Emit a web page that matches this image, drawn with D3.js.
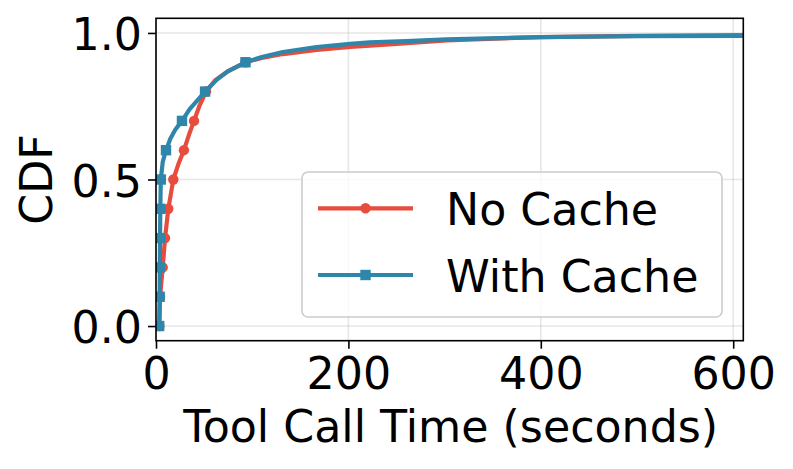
<!DOCTYPE html>
<html>
<head>
<meta charset="utf-8">
<script src="https://cdn.jsdelivr.net/npm/d3@7"></script>
<style>
  html, body { margin: 0; padding: 0; background: #fff; }
  svg { display: block; font-family: "DejaVu Sans", sans-serif; }
</style>
</head>
<body>
<svg id="chart" width="793" height="469"></svg>
<script>
// ---- data ----
const seriesNames = ["No Cache", "With Cache"];
const seriesColors = ["#E74C3C", "#2E86AB"];
const cdfLevels = [0, 0.1, 0.2, 0.3, 0.4, 0.5, 0.6, 0.7, 0.8, 0.9];
// x (seconds) at each CDF level (marker points)
const noCacheQuantiles   = [3.5, 4.2, 7, 9.4, 12.8, 18, 29, 39.5, 52, 93];
const withCacheQuantiles = [3.3, 3.8, 4, 4.2, 4.5, 5, 10.4, 27, 51, 93];
// extra curve points (between markers and the tail)
const noCacheExtraX = [23, 34, 45, 62, 75, 110, 132, 167, 202, 250, 302, 400, 500, 610];
const noCacheExtraY = [0.55, 0.65, 0.75, 0.84, 0.87, 0.915, 0.928, 0.942, 0.952, 0.963, 0.975, 0.986, 0.990, 0.993];
const withCacheExtraX = [7, 15, 20, 35, 43, 63, 75, 110, 132, 167, 202, 222, 260, 302, 400, 500, 610];
const withCacheExtraY = [0.56, 0.64, 0.67, 0.74, 0.77, 0.84, 0.87, 0.918, 0.935, 0.952, 0.963, 0.968, 0.972, 0.978, 0.986, 0.989, 0.990];
const xTicks = [0, 200, 400, 600];
const yTicks = [0, 0.5, 1.0];
const xLabel = "Tool Call Time (seconds)";
const yLabel = "CDF";

// ---- build series ----
function buildSeries(q, ex, ey) {
  const pts = q.map((x, i) => ({ x, y: cdfLevels[i], m: true }))
    .concat(ex.map((x, i) => ({ x, y: ey[i], m: false })));
  pts.sort((a, b) => a.y - b.y || a.x - b.x);
  return pts;
}
const series = [
  buildSeries(noCacheQuantiles, noCacheExtraX, noCacheExtraY),
  buildSeries(withCacheQuantiles, withCacheExtraX, withCacheExtraY)
];

// ---- layout ----
const svg = d3.select("#chart");
const L = 156, R = 743.3, T = 18.3, B = 340.7;
const x = d3.scaleLinear().domain([0, 610.5]).range([L, R]);
const y = d3.scaleLinear().domain([-0.05, 1.05]).range([B, T]);
const FS = 44.3;

// grid
const grid = svg.append("g");
grid.selectAll(".gx").data(xTicks).enter().append("line")
  .attr("x1", d => x(d)).attr("x2", d => x(d)).attr("y1", T).attr("y2", B)
  .attr("stroke", "#b0b0b0").attr("stroke-opacity", 0.3).attr("stroke-width", 1.6);
grid.selectAll(".gy").data(yTicks).enter().append("line")
  .attr("x1", L).attr("x2", R).attr("y1", d => y(d)).attr("y2", d => y(d))
  .attr("stroke", "#b0b0b0").attr("stroke-opacity", 0.3).attr("stroke-width", 1.6);

// lines
svg.append("clipPath").attr("id", "clip").append("rect")
  .attr("x", L).attr("y", T).attr("width", R - L).attr("height", B - T);
const lineGen = d3.line().x(d => x(d.x)).y(d => y(d.y));
const plot = svg.append("g").attr("clip-path", "url(#clip)");
series.forEach((s, i) => {
  const g = plot.append("g");
  g.append("path").datum(s).attr("d", lineGen)
    .attr("fill", "none").attr("stroke", seriesColors[i]).attr("stroke-width", 4.2)
    .attr("stroke-linejoin", "round").attr("stroke-linecap", "square");
  const ms = s.filter(d => d.m);
  if (i === 0) {
    g.selectAll("circle").data(ms).enter().append("circle")
      .attr("cx", d => x(d.x)).attr("cy", d => y(d.y)).attr("r", 5.2)
      .attr("fill", seriesColors[i]);
  } else {
    g.selectAll("rect").data(ms).enter().append("rect")
      .attr("x", d => x(d.x) - 5.2).attr("y", d => y(d.y) - 5.2)
      .attr("width", 10.4).attr("height", 10.4).attr("fill", seriesColors[i]);
  }
});

// spines
svg.append("rect").attr("x", L).attr("y", T).attr("width", R - L).attr("height", B - T)
  .attr("fill", "none").attr("stroke", "#000").attr("stroke-width", 1.6);

// x axis
const xa = svg.append("g").attr("transform", `translate(0,${B})`)
  .call(d3.axisBottom(x).tickValues(xTicks).tickSize(8).tickPadding(0).tickFormat(d3.format("d")));
xa.select(".domain").remove();
xa.selectAll("line").attr("stroke", "#000").attr("stroke-width", 1.6);
xa.selectAll("text").attr("font-size", FS).attr("font-family", "DejaVu Sans")
  .attr("fill", "#000").attr("dy", null).attr("y", 48.5);

// y axis
const ya = svg.append("g").attr("transform", `translate(${L},0)`)
  .call(d3.axisLeft(y).tickValues(yTicks).tickSize(8).tickPadding(0).tickFormat(d3.format(".1f")));
ya.select(".domain").remove();
ya.selectAll("line").attr("stroke", "#000").attr("stroke-width", 1.6);
ya.selectAll("text").attr("font-size", FS).attr("font-family", "DejaVu Sans")
  .attr("fill", "#000").attr("dy", null).attr("x", -14).attr("y", 16.8);

// axis labels
svg.append("text").attr("x", (L + R) / 2 + 1).attr("y", 441.7)
  .attr("text-anchor", "middle").attr("font-size", FS).text(xLabel);
svg.append("text").attr("transform", `translate(51.5,${(T + B) / 2}) rotate(-90)`)
  .attr("text-anchor", "middle").attr("font-size", FS).text(yLabel);

// legend
const lg = svg.append("g");
lg.append("rect").attr("x", 302).attr("y", 172).attr("width", 420).attr("height", 145)
  .attr("rx", 6).attr("fill", "#fff").attr("fill-opacity", 0.8)
  .attr("stroke", "#cccccc").attr("stroke-width", 1.6);
const legY = [208.3, 275];
seriesNames.forEach((name, i) => {
  lg.append("line").attr("x1", 318).attr("x2", 413).attr("y1", legY[i]).attr("y2", legY[i])
    .attr("stroke", seriesColors[i]).attr("stroke-width", 4.2);
  if (i === 0) {
    lg.append("circle").attr("cx", 365.5).attr("cy", legY[i]).attr("r", 5.2).attr("fill", seriesColors[i]);
  } else {
    lg.append("rect").attr("x", 365.5 - 5.2).attr("y", legY[i] - 5.2).attr("width", 10.4).attr("height", 10.4)
      .attr("fill", seriesColors[i]);
  }
  lg.append("text").attr("x", 446).attr("y", legY[i] + 16.7).attr("font-size", FS).text(name);
});
</script>
</body>
</html>
